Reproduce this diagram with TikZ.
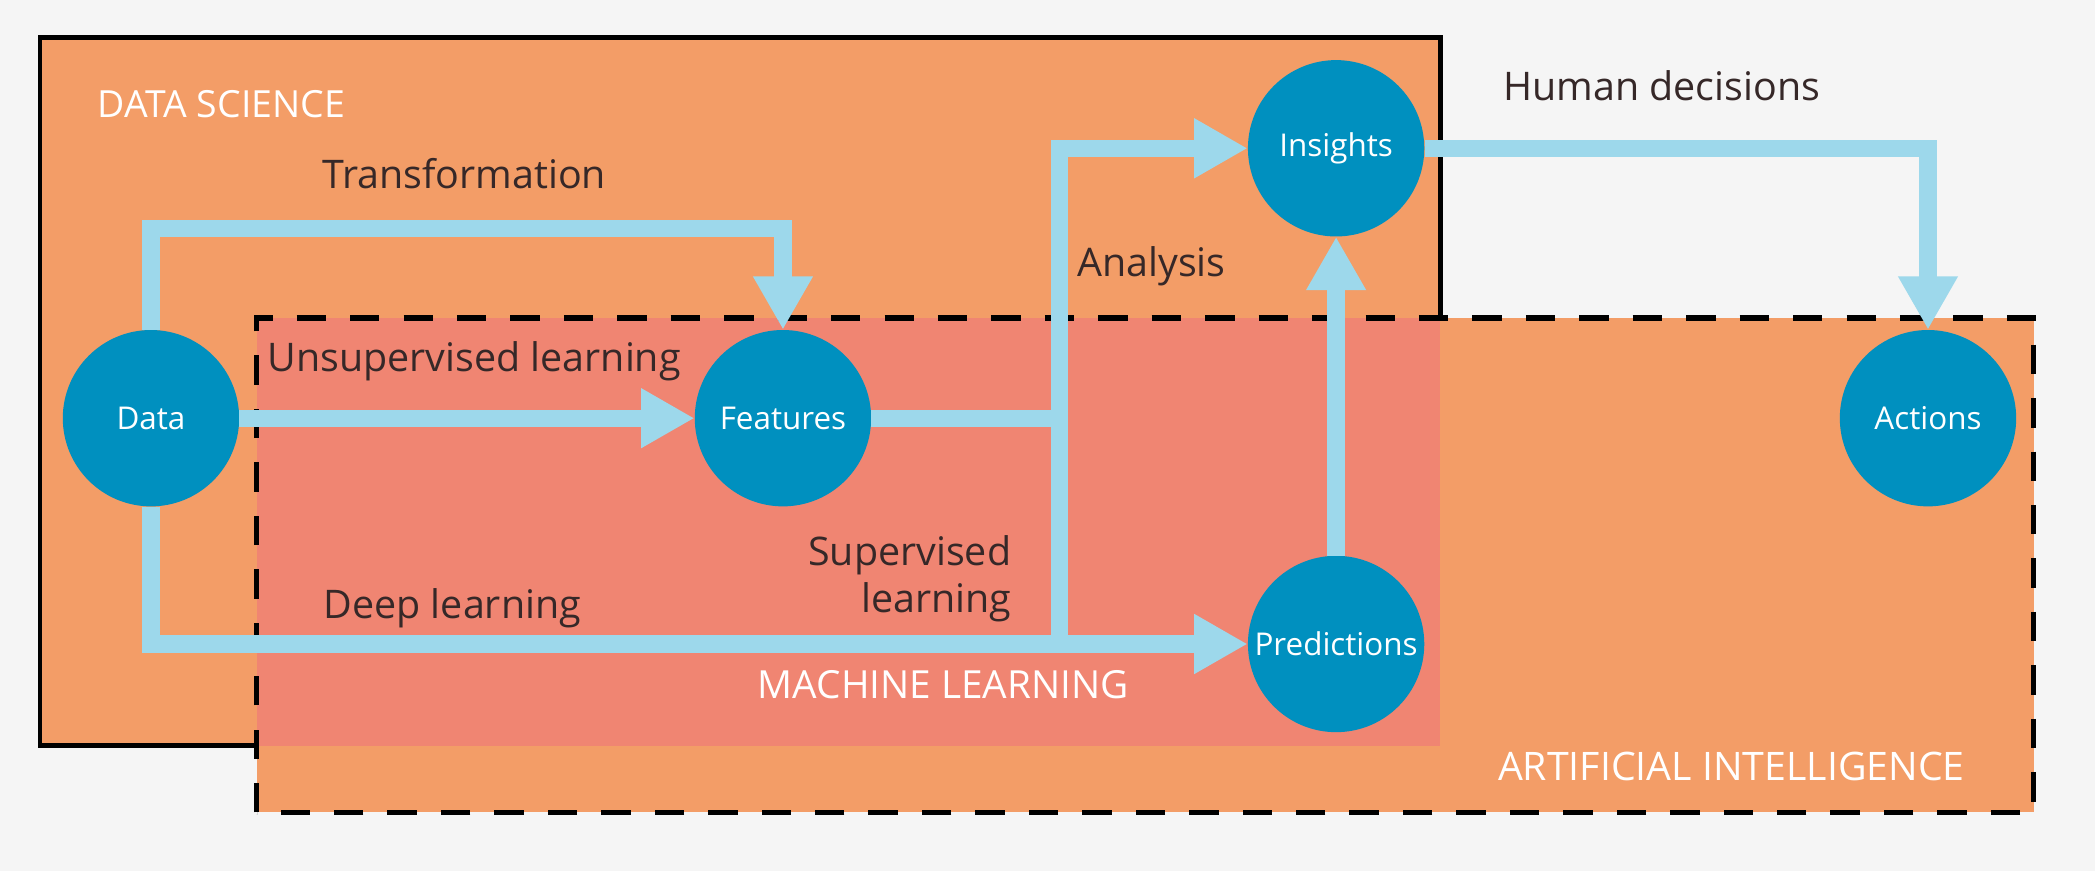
\documentclass[tikz,border=0pt]{standalone}
\usepackage{fontspec}
\setmainfont{Open Sans}
\usetikzlibrary{arrows.meta,positioning}
\definecolor{bgc}{HTML}{F5F5F5}
\definecolor{Oc}{HTML}{F39D67}
\definecolor{Mc}{HTML}{F08572}
\definecolor{Bc}{HTML}{0090BF}
\definecolor{Fc}{HTML}{9DD8EB}
\definecolor{Tc}{HTML}{362828}
\tikzset{
  stage/.style={circle, fill=Bc, text=white, inner sep=0pt, minimum size=132pt, font=\fontsize{23.5}{28}\selectfont},
  flow/.style={draw=Fc, line width=13pt, -{Triangle[width=42pt,length=40pt]}},
  pipe/.style={draw=Fc, line width=13pt},
  lbl/.style={anchor=base west, inner sep=0pt, text=Tc, font=\fontsize{29.5}{35}\selectfont},
  area/.style={anchor=base west, inner sep=0pt, text=white, font=\fontsize{29}{34}\selectfont},
}
\begin{document}
\begin{tikzpicture}[x=1pt,y=1pt]
  \path[use as bounding box, fill=bgc] (0,0) rectangle (1568,652);
  \filldraw[fill=Oc, draw=black, line width=3.5pt] (30,94) rectangle (1078,624);
  \fill[Oc] (192,44) rectangle (1522,414);
  \fill[Mc] (192,94) rectangle (1078,414);
  \draw[black, line width=4pt, dash pattern=on 22pt off 18pt] (192,44) rectangle (1522,414);
  \node[stage] (data) at (113,339) {Data};
  \node[stage] (feat) at (586,339) {Features};
  \node[stage] (ins) at (1000,541) {Insights};
  \node[stage] (pred) at (1000,170) {Predictions};
  \node[stage] (act) at (1443,339) {Actions};
  \coordinate (jn) at (793,339);
  \draw[flow] (data.north) -- ++(0,76) -| (feat.north);
  \draw[flow] (data.east) -- (feat.west);
  \draw[flow] (feat.east) -- (jn) |- (ins.west);
  \draw[pipe] (jn) -- (jn |- pred.west);
  \draw[flow] (data.south) |- (pred.west);
  \draw[flow] (pred.north) -- (ins.south);
  \draw[flow] (ins.east) -| (act.north);
  \node[area, font=\fontsize{28}{34}\selectfont] (dsname) at (73,564) {DATA SCIENCE};
  \node[lbl] (trname) at (241,511) {Transformation};
  \node[lbl] (hdname) at (1125,576.5) {Human decisions};
  \node[lbl] (anname) at (806,445) {Analysis};
  \node[lbl] (unname) at (200,374) {Unsupervised learning};
  \node[lbl, anchor=east, align=right] (suname) at (757,219) {Supervised\\learning};
  \node[lbl] (dlname) at (242,189) {Deep learning};
  \node[area] (mlname) at (567,129.5) {MACHINE LEARNING};
  \node[area, font=\fontsize{29.4}{34}\selectfont] (ainame) at (1121,68) {ARTIFICIAL INTELLIGENCE};
\end{tikzpicture}
\end{document}
